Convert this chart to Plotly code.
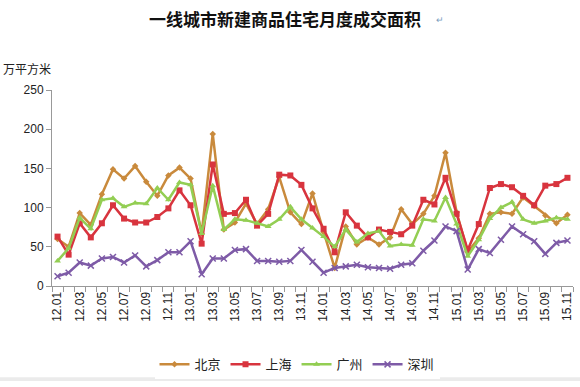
import plotly.graph_objects as go

months = [f"{y}.{m:02d}" for y in (12, 13, 14, 15) for m in range(1, 13)][:47]

beijing = [60, 50, 93, 78, 117, 149, 137, 153, 133, 115, 141, 151, 137, 67, 194, 72,
           81, 105, 79, 98, 139, 94, 79, 118, 69, 23, 76, 53, 62, 53, 62, 98, 79, 92,
           115, 170, 94, 44, 61, 92, 94, 92, 113, 102, 90, 80, 91]
shanghai = [63, 40, 80, 62, 80, 103, 86, 81, 81, 88, 99, 122, 103, 54, 155, 92,
            93, 110, 77, 92, 142, 141, 129, 99, 73, 43, 94, 77, 62, 72, 69, 66, 77, 110,
            104, 138, 92, 46, 79, 125, 130, 126, 115, 103, 128, 130, 138]
guangzhou = [32, 48, 87, 73, 110, 112, 101, 106, 105, 125, 110, 132, 129, 67, 128, 72,
             85, 84, 80, 76, 85, 101, 85, 74, 63, 50, 72, 56, 67, 70, 51, 53, 52, 85,
             83, 113, 79, 38, 59, 86, 100, 107, 85, 80, 83, 87, 85]
shenzhen = [12.5, 17, 30, 26, 35, 37, 30, 39, 25, 33, 43, 43, 57, 15, 35, 35,
            46, 47, 32, 32, 31, 32, 46, 31, 17, 23, 25, 27, 24, 23, 22, 27, 29, 45,
            58, 76, 70, 21, 47, 42, 59, 76, 66, 57, 41, 55, 58]

tick_text = [m if i % 2 == 0 else "" for i, m in enumerate(months)]

series = [
    ("北京", beijing, "#C98A3C", "diamond", 5),
    ("上海", shanghai, "#D8343E", "square", 6),
    ("广州", guangzhou, "#93CE53", "triangle-up", 6),
    ("深圳", shenzhen, "#7E5BA7", "x-thin", 6),
]

fig = go.Figure()
for name, vals, color, sym, size in series:
    fig.add_trace(go.Scatter(
        x=months, y=vals, name=name, mode="lines+markers",
        line=dict(color=color, width=2.5),
        marker=dict(symbol=sym, size=size, color=color,
                    line=dict(color=color, width=1.5 if sym == "x-thin" else 0)),
    ))

L, R, T, B = 52, 7, 90, 97
W, H = 580, 387
pw, ph = W - L - R, H - T - B

def px(x, y):
    return (x - L) / pw, (H - B - y) / ph

anns = []
for text, x, y, font in [
    ("<b>一线城市新建商品住宅月度成交面积</b>", 285, 17,
     dict(family="Noto Sans CJK SC", size=17, color="#111111")),
    ("↵", 440, 19, dict(size=9, color="#7A9CC0")),
    ("万平方米", 27, 68, dict(family="Noto Sans CJK SC", size=12, color="#222222")),
]:
    ax, ay = px(x, y)
    anns.append(dict(text=text, x=ax, y=ay, xref="paper", yref="paper", showarrow=False,
                     font=font, xanchor="center", yanchor="middle"))

sx0, sy0 = px(0, 383)
sx1, sy1 = px(580, 387)

fig.update_layout(
    width=W, height=H,
    margin=dict(l=L, r=R, t=T, b=B),
    paper_bgcolor="white", plot_bgcolor="white",
    font=dict(family="Liberation Sans, Noto Sans CJK SC", size=12, color="#222222"),
    showlegend=True,
    legend=dict(orientation="h", x=px(297, 0)[0], xanchor="center", y=px(0, 370)[1],
                yanchor="middle",
                font=dict(family="Noto Sans CJK SC", size=13, color="#222222"),
                itemwidth=30, tracegroupgap=0),
    annotations=anns,
    shapes=[dict(type="rect", xref="paper", yref="paper", x0=sx0, x1=sx1,
                 y0=sy0, y1=sy1, fillcolor="#EBEBEB", line=dict(width=0), layer="below")],
)

fig.update_xaxes(
    type="category", tickvals=months, ticktext=tick_text, tickangle=-90,
    tickson="boundaries", ticks="outside", ticklen=5, tickcolor="#999999",
    showline=True, linecolor="#999999", linewidth=1, showgrid=False,
    range=[-0.5, len(months) - 0.5],
    tickfont=dict(family="Liberation Sans", size=12, color="#222222"),
)
fig.update_yaxes(
    range=[0, 250], dtick=50, ticks="outside", ticklen=5, tickcolor="#999999",
    showline=True, linecolor="#999999", linewidth=1, showgrid=False, zeroline=False,
    tickfont=dict(family="Liberation Sans", size=12, color="#222222"),
)

fig.write_html("out.html", config={"displayModeBar": False},
               post_script="document.body.style.margin='0';")
